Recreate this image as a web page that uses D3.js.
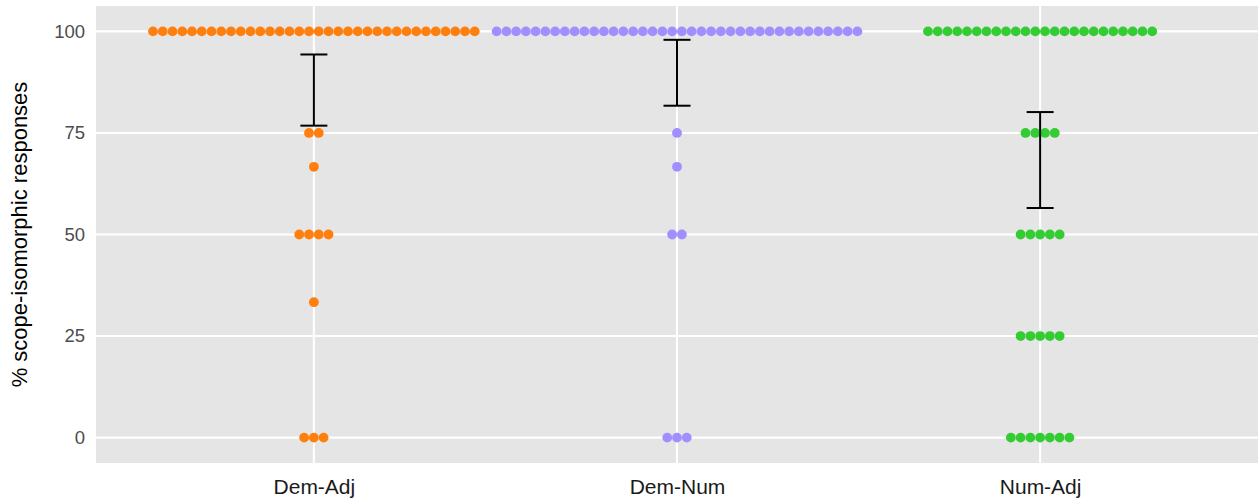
<!DOCTYPE html>
<html>
<head>
<meta charset="utf-8">
<script src="https://cdn.jsdelivr.net/npm/d3@7"></script>
<style>
  html, body { margin: 0; padding: 0; background: #fff; }
  svg { display: block; }
</style>
</head>
<body>
<svg id="chart" width="1258" height="501"></svg>
<script>
// ---- data ----
const categories = ["Dem-Adj", "Dem-Num", "Num-Adj"];
const colors = ["#ff7f0e", "#a08fff", "#33cc33"];
// distinct response levels and how many participants gave each
const demAdjLevels = [100, 75, 66.67, 50, 33.33, 0];
const demAdjCounts = [34, 2, 1, 4, 1, 3];
const demNumLevels = [100, 75, 66.67, 50, 0];
const demNumCounts = [38, 1, 1, 2, 3];
const numAdjLevels = [100, 75, 50, 25, 0];
const numAdjCounts = [24, 4, 5, 5, 7];
const yTicks = [0, 25, 50, 75, 100];
const yTitle = "% scope-isomorphic responses";

const levels = [demAdjLevels, demNumLevels, numAdjLevels];
const counts = [demAdjCounts, demNumCounts, numAdjCounts];

// ---- layout ----
const panel = { left: 96, right: 1258, top: 6, bottom: 463 };
const svg = d3.select("#chart");

// ggplot discrete expand: 0.6 units each side
const step = (panel.right - panel.left) / (categories.length - 1 + 1.2);
const xc = d3.scalePoint().domain(categories)
  .range([panel.left + 0.6 * step, panel.right - 0.6 * step]);
const y = d3.scaleLinear().domain([-6.25, 106.25]).range([panel.bottom, panel.top]);

svg.append("rect")
  .attr("x", panel.left).attr("y", panel.top)
  .attr("width", panel.right - panel.left).attr("height", panel.bottom - panel.top)
  .attr("fill", "#e5e5e5");

// grid
svg.append("g").selectAll("line").data(yTicks).join("line")
  .attr("x1", panel.left).attr("x2", panel.right)
  .attr("y1", d => y(d)).attr("y2", d => y(d))
  .attr("stroke", "#fff").attr("stroke-width", 2.1);
svg.append("g").selectAll("line").data(categories).join("line")
  .attr("x1", d => xc(d)).attr("x2", d => xc(d))
  .attr("y1", panel.top).attr("y2", panel.bottom)
  .attr("stroke", "#fff").attr("stroke-width", 2.1);

// axes
const yAxis = d3.axisLeft(y).tickValues(yTicks).tickSize(0).tickPadding(11);
const gy = svg.append("g").attr("transform", `translate(${panel.left},0)`).call(yAxis);
gy.select(".domain").remove();
gy.selectAll("text").attr("font-family", "Liberation Sans, Arial, sans-serif")
  .attr("font-size", 18.5).attr("fill", "#4d4d4d");

const xAxis = d3.axisBottom(xc).tickSize(0).tickPadding(16);
const gx = svg.append("g").attr("transform", `translate(0,${panel.bottom})`).call(xAxis);
gx.select(".domain").remove();
gx.selectAll("text").attr("font-family", "Liberation Sans, Arial, sans-serif")
  .attr("font-size", 21).attr("fill", "#1a1a1a");

svg.append("text")
  .attr("transform", `translate(27,${(panel.top + panel.bottom) / 2}) rotate(-90)`)
  .attr("text-anchor", "middle")
  .attr("font-family", "Liberation Sans, Arial, sans-serif")
  .attr("font-size", 22).attr("fill", "#000")
  .text(yTitle);

// dots
const dotSpacing = 9.75, r = 4.9;
const dots = [];
categories.forEach((c, ci) => {
  levels[ci].forEach((v, li) => {
    const n = counts[ci][li];
    for (let i = 0; i < n; i++) {
      dots.push({ c, ci, v, off: (i - (n - 1) / 2) * dotSpacing });
    }
  });
});
svg.append("g").selectAll("circle").data(dots).join("circle")
  .attr("cx", d => xc(d.c) + d.off)
  .attr("cy", d => y(d.v))
  .attr("r", r)
  .attr("fill", d => colors[d.ci]);

// error bars: mean +/- t * se
const summaries = categories.map((c, ci) => {
  const vals = [];
  levels[ci].forEach((v, li) => { for (let i = 0; i < counts[ci][li]; i++) vals.push(v); });
  const n = vals.length, m = d3.mean(vals), sd = d3.deviation(vals);
  const t = 2.015; // df = 44
  return { c, lo: m - t * sd / Math.sqrt(n), hi: m + t * sd / Math.sqrt(n) };
});
const capW = 13.5;
const eb = svg.append("g").attr("stroke", "#000").attr("stroke-width", 2);
summaries.forEach(s => {
  const cx = xc(s.c);
  eb.append("line").attr("x1", cx).attr("x2", cx).attr("y1", y(s.lo)).attr("y2", y(s.hi));
  eb.append("line").attr("x1", cx - capW).attr("x2", cx + capW).attr("y1", y(s.lo)).attr("y2", y(s.lo));
  eb.append("line").attr("x1", cx - capW).attr("x2", cx + capW).attr("y1", y(s.hi)).attr("y2", y(s.hi));
});
</script>
</body>
</html>
